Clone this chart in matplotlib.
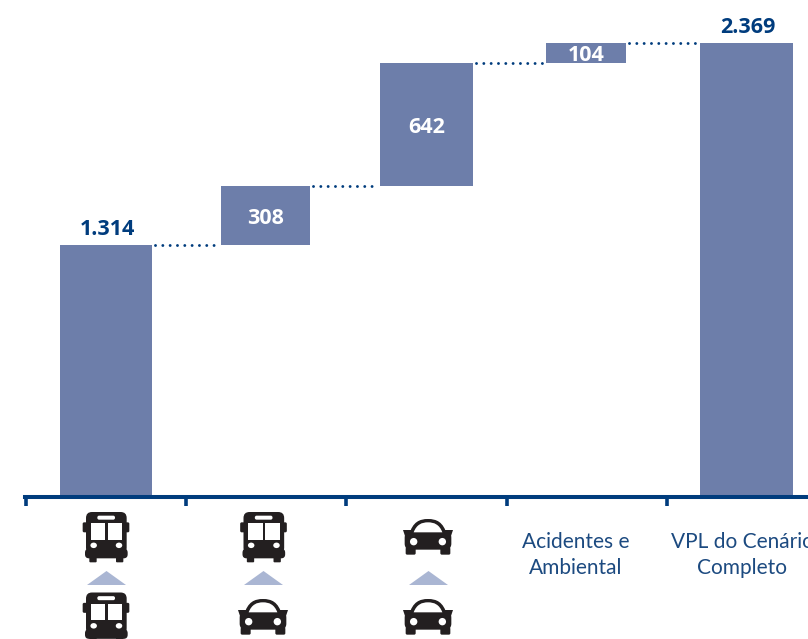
#!/usr/bin/env python3
# -*- coding: utf-8 -*-
"""Cascata do VPL: parcelas acumuladas ate o cenario completo."""

import numpy as np
import matplotlib
matplotlib.use('Agg')
import matplotlib.pyplot as plt
from matplotlib.patches import FancyBboxPatch, Polygon, Circle, Ellipse, PathPatch
from matplotlib.path import Path

matplotlib.rcParams['font.family'] = ['Lato', 'DejaVu Sans']

# Dados do grafico
start_value = 1314
step_values = [308, 642, 104]
total_value = 2369
value_labels = ['1.314', '308', '642', '104', '2.369']
text_categories = ['Acidentes e\nAmbiental', 'VPL do Cenário\nCompleto']

# Colunas em pixels (esquerda, direita)
bar_edges = [(60, 152), (221, 310), (380, 473), (546, 626), (700, 793)]
tick_positions = [26, 186, 346, 507, 667]

BAR_COLOR = '#6d7eaa'
NAVY = '#003c7d'
TEXT_NAVY = '#1c4a80'
ARROW_COLOR = '#aab6d3'
ICON_COLOR = '#231f20'

W, H = 808, 639
ZERO_Y = 497.0
PX_PER_UNIT = (ZERO_Y - 43.0) / total_value


def rbox(ax, x0, y0, x1, y1, r, color):
    ax.add_patch(FancyBboxPatch((x0 + r, y0 + r), x1 - x0 - 2 * r, y1 - y0 - 2 * r,
                                boxstyle=f'round,pad={r}', fc=color, ec='none'))


def draw_bus(ax, cx, top):
    def X(v):
        return cx + v / 3.0

    def Y(v):
        return top + v / 3.0

    # espelhos, carroceria e para-choque
    rbox(ax, X(-70), Y(31), X(70), Y(61), 1.5, ICON_COLOR)
    rbox(ax, X(-60), Y(0), X(62), Y(125), 6, ICON_COLOR)
    rbox(ax, X(-63), Y(110), X(65), Y(139), 4, ICON_COLOR)
    # rodas
    rbox(ax, X(-50), Y(130), X(-28), Y(151), 1, ICON_COLOR)
    rbox(ax, X(30), Y(130), X(52), Y(151), 1, ICON_COLOR)
    # janelas, letreiro e farois
    ax.add_patch(Polygon([(X(-46), Y(33)), (X(-3), Y(33)), (X(-3), Y(83)), (X(-46), Y(83))],
                         fc='white', ec='none'))
    ax.add_patch(Polygon([(X(5), Y(33)), (X(49), Y(33)), (X(49), Y(83)), (X(5), Y(83))],
                         fc='white', ec='none'))
    rbox(ax, X(-26), Y(11), X(27), Y(23), 1.8, 'white')
    ax.add_patch(Ellipse((X(-37), Y(100)), 6.5, 5.5, fc='white', ec='none'))
    ax.add_patch(Ellipse((X(39), Y(100)), 6.5, 5.5, fc='white', ec='none'))


def draw_car(ax, cx, top):
    def P(x, y):
        return (cx + x / 3.0, top + y / 3.0)

    curve = [Path.MOVETO, Path.CURVE4, Path.CURVE4, Path.CURVE4,
             Path.CURVE4, Path.CURVE4, Path.CURVE4, Path.CLOSEPOLY]
    # teto
    roof = Path([P(-57, 48), P(-46, 8), P(-25, 0), P(0, 0),
                 P(25, 0), P(46, 8), P(57, 48), P(-57, 48)], curve)
    ax.add_patch(PathPatch(roof, fc=ICON_COLOR, ec='none'))
    # espelhos
    ax.add_patch(Polygon([P(-75, 33), P(-45, 33), P(-45, 50), P(-70, 50)], fc=ICON_COLOR, ec='none'))
    ax.add_patch(Polygon([P(75, 33), P(45, 33), P(45, 50), P(70, 50)], fc=ICON_COLOR, ec='none'))
    # carroceria
    x0, y0 = P(-70, 38)
    x1, y1 = P(70, 92)
    rbox(ax, x0, y0, x1, y1, 6, ICON_COLOR)
    # rodas
    x0, y0 = P(-67, 85)
    x1, y1 = P(-37, 107)
    rbox(ax, x0, y0, x1, y1, 1.5, ICON_COLOR)
    x0, y0 = P(37, 85)
    x1, y1 = P(67, 107)
    rbox(ax, x0, y0, x1, y1, 1.5, ICON_COLOR)
    # para-brisa e farois
    glass = Path([P(-43, 40), P(-34, 16), P(-18, 10), P(0, 10),
                  P(18, 10), P(34, 16), P(43, 40), P(-43, 40)], curve)
    ax.add_patch(PathPatch(glass, fc='white', ec='none'))
    ax.add_patch(Circle(P(-43, 68), 3.7, fc='white', ec='none'))
    ax.add_patch(Circle(P(43, 68), 3.7, fc='white', ec='none'))


def draw_arrow(ax, x0, x1):
    ax.add_patch(Polygon([(x0, 585), ((x0 + x1) / 2, 571), (x1, 585)], fc=ARROW_COLOR, ec='none'))


def main():
    fig = plt.figure(figsize=(W / 100, H / 100), dpi=100)
    ax = fig.add_axes([0, 0, 1, 1])
    ax.set_xlim(0, W)
    ax.set_ylim((ZERO_Y - H) / PX_PER_UNIT, ZERO_Y / PX_PER_UNIT)

    running = np.cumsum([start_value] + step_values)
    bottoms = [0] + list(running[:-1]) + [0]
    heights = [start_value] + step_values + [total_value]
    lefts = [e[0] for e in bar_edges]
    widths = [e[1] - e[0] for e in bar_edges]
    centers = [l + w / 2 for l, w in zip(lefts, widths)]

    ax.bar(lefts, heights, width=widths, bottom=bottoms, align='edge', color=BAR_COLOR, zorder=2)

    # ligacoes pontilhadas entre as colunas
    for i, level in enumerate(running):
        ax.plot([bar_edges[i][1] + 3, bar_edges[i + 1][0] - 2], [level, level], color=NAVY, lw=2.1,
                linestyle=(0, (0.01, 2.5)), dash_capstyle='round', zorder=1)

    # rotulos de valor
    for i, label in enumerate(value_labels):
        if i in (0, len(value_labels) - 1):
            ax.annotate(label, (centers[i], bottoms[i] + heights[i]), xytext=(1, 7),
                        textcoords='offset points', ha='center', va='baseline',
                        fontsize=15.5, fontweight='bold', family=['Open Sans', 'DejaVu Sans'], color=NAVY)
        else:
            ax.text(centers[i], bottoms[i] + heights[i] / 2, label, ha='center', va='center_baseline',
                    fontsize=15.5, fontweight='bold', family=['Open Sans', 'DejaVu Sans'],
                    color='white', zorder=3)

    # eixo inferior com marcas para fora
    for name in ('top', 'left', 'right'):
        ax.spines[name].set_visible(False)
    ax.spines['bottom'].set_position(('data', 0))
    ax.spines['bottom'].set_bounds(tick_positions[0] - 1, W)
    ax.spines['bottom'].set_linewidth(2.9)
    ax.spines['bottom'].set_color(NAVY)
    ax.spines['bottom'].set_zorder(4)
    ax.set_xticks(tick_positions)
    ax.set_xticklabels([])
    ax.set_yticks([])
    ax.tick_params(axis='x', direction='out', length=6.5, width=2.6, color=NAVY)
    ax.patch.set_visible(False)

    # categorias em texto
    for x, label in zip([576, 742], text_categories):
        ax.text(x, (ZERO_Y - 555) / PX_PER_UNIT, label, ha='center', va='center',
                fontsize=15, color=TEXT_NAVY, linespacing=1.42)

    # icones abaixo do eixo, em coordenadas de pixel
    icons = fig.add_axes([0, 0, 1, 1])
    icons.set_xlim(0, W)
    icons.set_ylim(H, 0)
    icons.axis('off')
    draw_bus(icons, 106, 512)
    draw_arrow(icons, 87, 126)
    draw_bus(icons, 106, 592.5)
    draw_bus(icons, 263.5, 512)
    draw_arrow(icons, 244, 283)
    draw_car(icons, 263, 599)
    draw_car(icons, 428, 519)
    draw_arrow(icons, 409, 448)
    draw_car(icons, 428, 599)

    fig.savefig('out.png', dpi=100)


if __name__ == '__main__':
    main()
